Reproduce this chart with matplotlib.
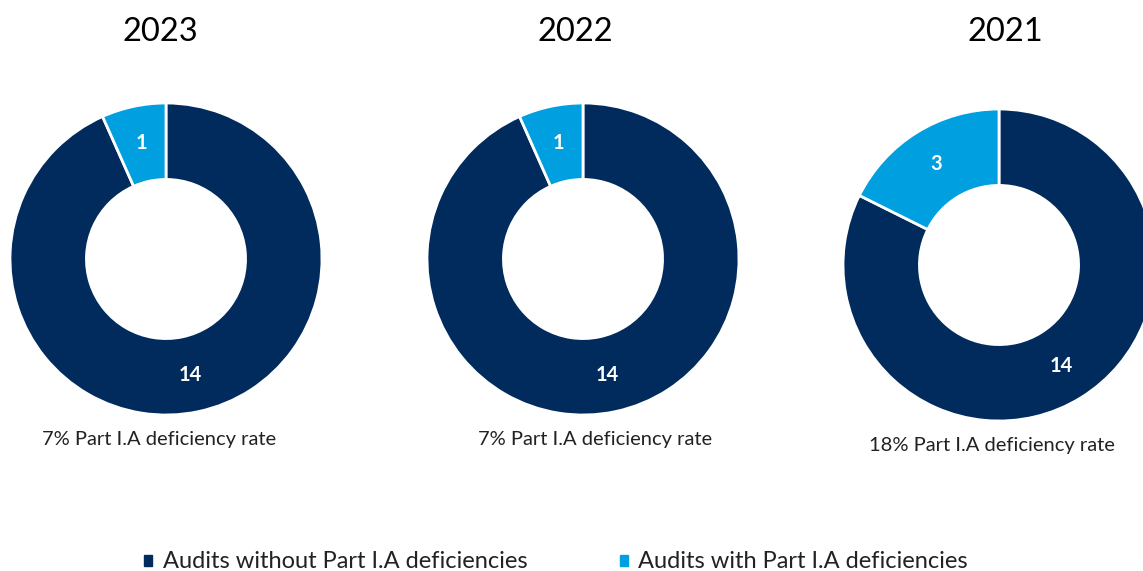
import matplotlib.pyplot as plt
from matplotlib.patches import Patch

# data
years = ["2023", "2022", "2021"]
without_def = [14, 14, 14]
with_def = [1, 1, 3]
rates = ["7% Part I.A deficiency rate", "7% Part I.A deficiency rate",
         "18% Part I.A deficiency rate"]
legend_labels = ["Audits without Part I.A deficiencies",
                 "Audits with Part I.A deficiencies"]

navy = "#002B5C"
light = "#009FDF"

plt.rcParams['font.family'] = ['Lato', 'DejaVu Sans']

W, H = 1143, 571
fig = plt.figure(figsize=(W / 100, H / 100), dpi=100)

# donut centres / radius in pixels (from top-left)
centres = [(166, 259), (583, 259), (999, 265)]
title_pos = [(160, 32), (575, 32), (1005, 32)]
rate_pos = [(159, 440), (595, 440), (992, 446)]
R = 156

for i, year in enumerate(years):
    cx, cy = centres[i]
    ax = fig.add_axes([(cx - R) / W, 1 - (cy + R) / H, 2 * R / W, 2 * R / H])
    vals = [without_def[i], with_def[i]]
    wedges, texts = ax.pie(
        vals, colors=[navy, light], startangle=90, counterclock=False,
        radius=1, labels=[str(v) for v in vals], labeldistance=0.76,
        wedgeprops=dict(width=0.49, edgecolor="white", linewidth=2),
        textprops=dict(color="white", fontsize=14.5, fontweight="bold",
                       ha="center", va="center"))
    ax.set_xlim(-1, 1)
    ax.set_ylim(-1, 1)
    ax.set_aspect("equal")
    ax.axis("off")

    tx, ty = title_pos[i]
    fig.text(tx / W, 1 - ty / H, year, fontsize=23.5, ha="center", va="center")
    rx, ry = rate_pos[i]
    fig.text(rx / W, 1 - ry / H, rates[i], fontsize=14.5, ha="center",
             va="center", color="#222222")

handles = [Patch(color=navy), Patch(color=light)]
fig.legend(handles, legend_labels, loc="center",
           bbox_to_anchor=(556 / W, 1 - 562 / H),
           ncol=2, frameon=False, fontsize=17, handlelength=0.34, handleheight=0.34,
           columnspacing=3.9, handletextpad=0.45, labelcolor="#222222",
           borderpad=0)

plt.savefig("out.png", dpi=100)
plt.close()
